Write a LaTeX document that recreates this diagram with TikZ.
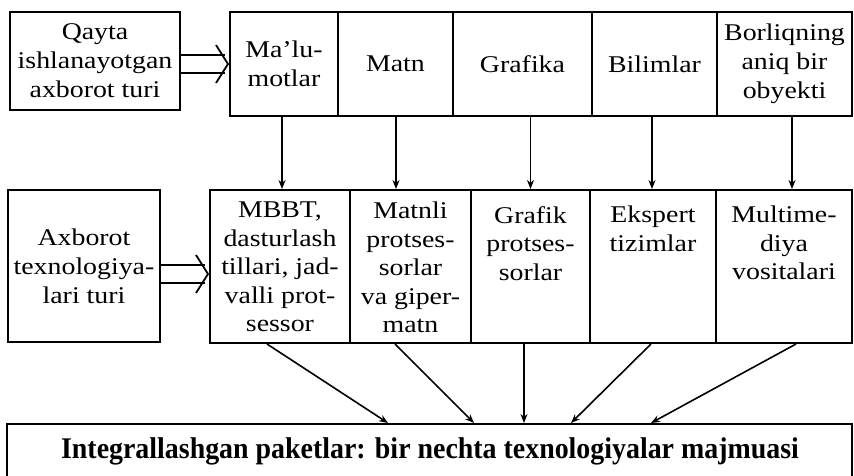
\documentclass[tikz,border=0pt]{standalone}
\usepackage{fontspec}
\setmainfont{Liberation Serif}[FakeStretch=1.16]
\newfontfamily\boldfam{Liberation Serif}[FakeStretch=0.93]
\usetikzlibrary{arrows.meta,calc}
\begin{document}
\begin{tikzpicture}[x=1pt,y=-1pt,
  box/.style={draw, line width=2pt, inner sep=0pt, align=center,
    font=\fontsize{24}{29}\selectfont},
  txt/.style={inner sep=0pt, align=center, anchor=north,
    font=\fontsize{24}{28.5}\selectfont},
  arr/.style={line width=1.6pt, -{Stealth[length=9pt,width=7pt]}},
  dbl/.style={line width=1.8pt}]
\useasboundingbox (0,0) rectangle (854,475);

% top-left source box
\node[box, minimum width=170, minimum height=98] (q) at (95,61)
  {Qayta\\ishlanayotgan\\axborot turi};
% top row
\node[box, minimum width=108, minimum height=104] (t1) at (284,64) {Ma’lu-\\motlar};
\node[box, minimum width=115, minimum height=104] (t2) at (395.5,64) {Matn};
\node[box, minimum width=139, minimum height=104] (t3) at (522.5,64) {Grafika};
\node[box, minimum width=125, minimum height=104] (t4) at (654.5,64) {Bilimlar};
\node[box, minimum width=135, minimum height=104] (t5) at (784.5,64) {Borliqning\\aniq bir\\obyekti};

% middle left box
\node[box, minimum width=152, minimum height=152] (a) at (84,266)
  {Axborot\\texnologiya-\\lari turi};
% middle row cells
\node[box, minimum width=140, minimum height=153] (m1) at (280,266.5) {};
\node[box, minimum width=121, minimum height=153] (m2) at (410.5,266.5) {};
\node[box, minimum width=119, minimum height=153] (m3) at (530.5,266.5) {};
\node[box, minimum width=126, minimum height=153] (m4) at (653,266.5) {};
\node[box, minimum width=136, minimum height=153] (m5) at (784,266.5) {};
\node[txt] (m1t) at ([yshift=-13]m1.north) {MBBT,\\dasturlash\\tillari, jad-\\valli prot-\\sessor};
\node[txt] (m2t) at ([yshift=-13]m2.north) {Matnli\\protses-\\sorlar\\va giper-\\matn};
\node[txt] (m3t) at ([yshift=-17]m3.north) {Grafik\\protses-\\sorlar};
\node[txt] (m4t) at ([yshift=-17]m4.north) {Ekspert\\tizimlar};
\node[txt] (m5t) at ([yshift=-17]m5.north) {Multime-\\diya\\vositalari};

% bottom box (its lower edge lies below the picture)
\node[draw, line width=2pt, inner sep=0pt, minimum width=845, minimum height=80,
  anchor=north] (b) at (429.5,423) {};
\node[inner sep=0pt, anchor=base, font=\fontsize{30}{34}\boldfam\bfseries] (bt) at (430,458)
  {Integrallashgan paketlar: bir nechta texnologiyalar majmuasi};

% double arrows
\draw[dbl] ([yshift=9]q.east |- t1.west) -- ([xshift=-4,yshift=9]t1.west);
\draw[dbl] ([yshift=-9]q.east |- t1.west) -- ([xshift=-4,yshift=-9]t1.west);
\draw[dbl] ([xshift=-13,yshift=19]t1.west) -- ([xshift=-1]t1.west) -- ([xshift=-13,yshift=-19]t1.west);

\draw[dbl] ([yshift=1.5]a.east |- m1.west) -- ([xshift=-4,yshift=1.5]m1.west);
\draw[dbl] ([yshift=-16.5]a.east |- m1.west) -- ([xshift=-4,yshift=-16.5]m1.west);
\draw[dbl] ([xshift=-13,yshift=11.5]m1.west) -- ([xshift=-1,yshift=-7.5]m1.west) -- ([xshift=-13,yshift=-26.5]m1.west);

% top -> middle
\draw[arr] ([xshift=-2]t1.south) -- ([xshift=-2]t1.south |- m1.north);
\draw[arr] ([xshift=0.5]t2.south) -- ([xshift=0.5]t2.south |- m2.north);
\draw[arr] (m3.north |- t3.south) -- (m3.north);
\draw[arr] ([xshift=-2.5]t4.south) -- ([xshift=-2.5]t4.south |- m4.north);
\draw[arr] ([xshift=7.5]t5.south) -- ([xshift=7.5]t5.south |- m5.north);

% middle -> bottom
\draw[arr] ([xshift=-13]m1.south) -- ([xshift=-41.5]b.north);
\draw[arr] ([xshift=-15.5]m2.south) -- ([xshift=44.5]b.north);
\draw[arr] ([xshift=-6.5]m3.south) -- ([xshift=94.5]b.north);
\draw[arr] ([xshift=-2]m4.south) -- ([xshift=141.5]b.north);
\draw[arr] ([xshift=12]m5.south) -- ([xshift=221.5]b.north);
\end{tikzpicture}
\end{document}
